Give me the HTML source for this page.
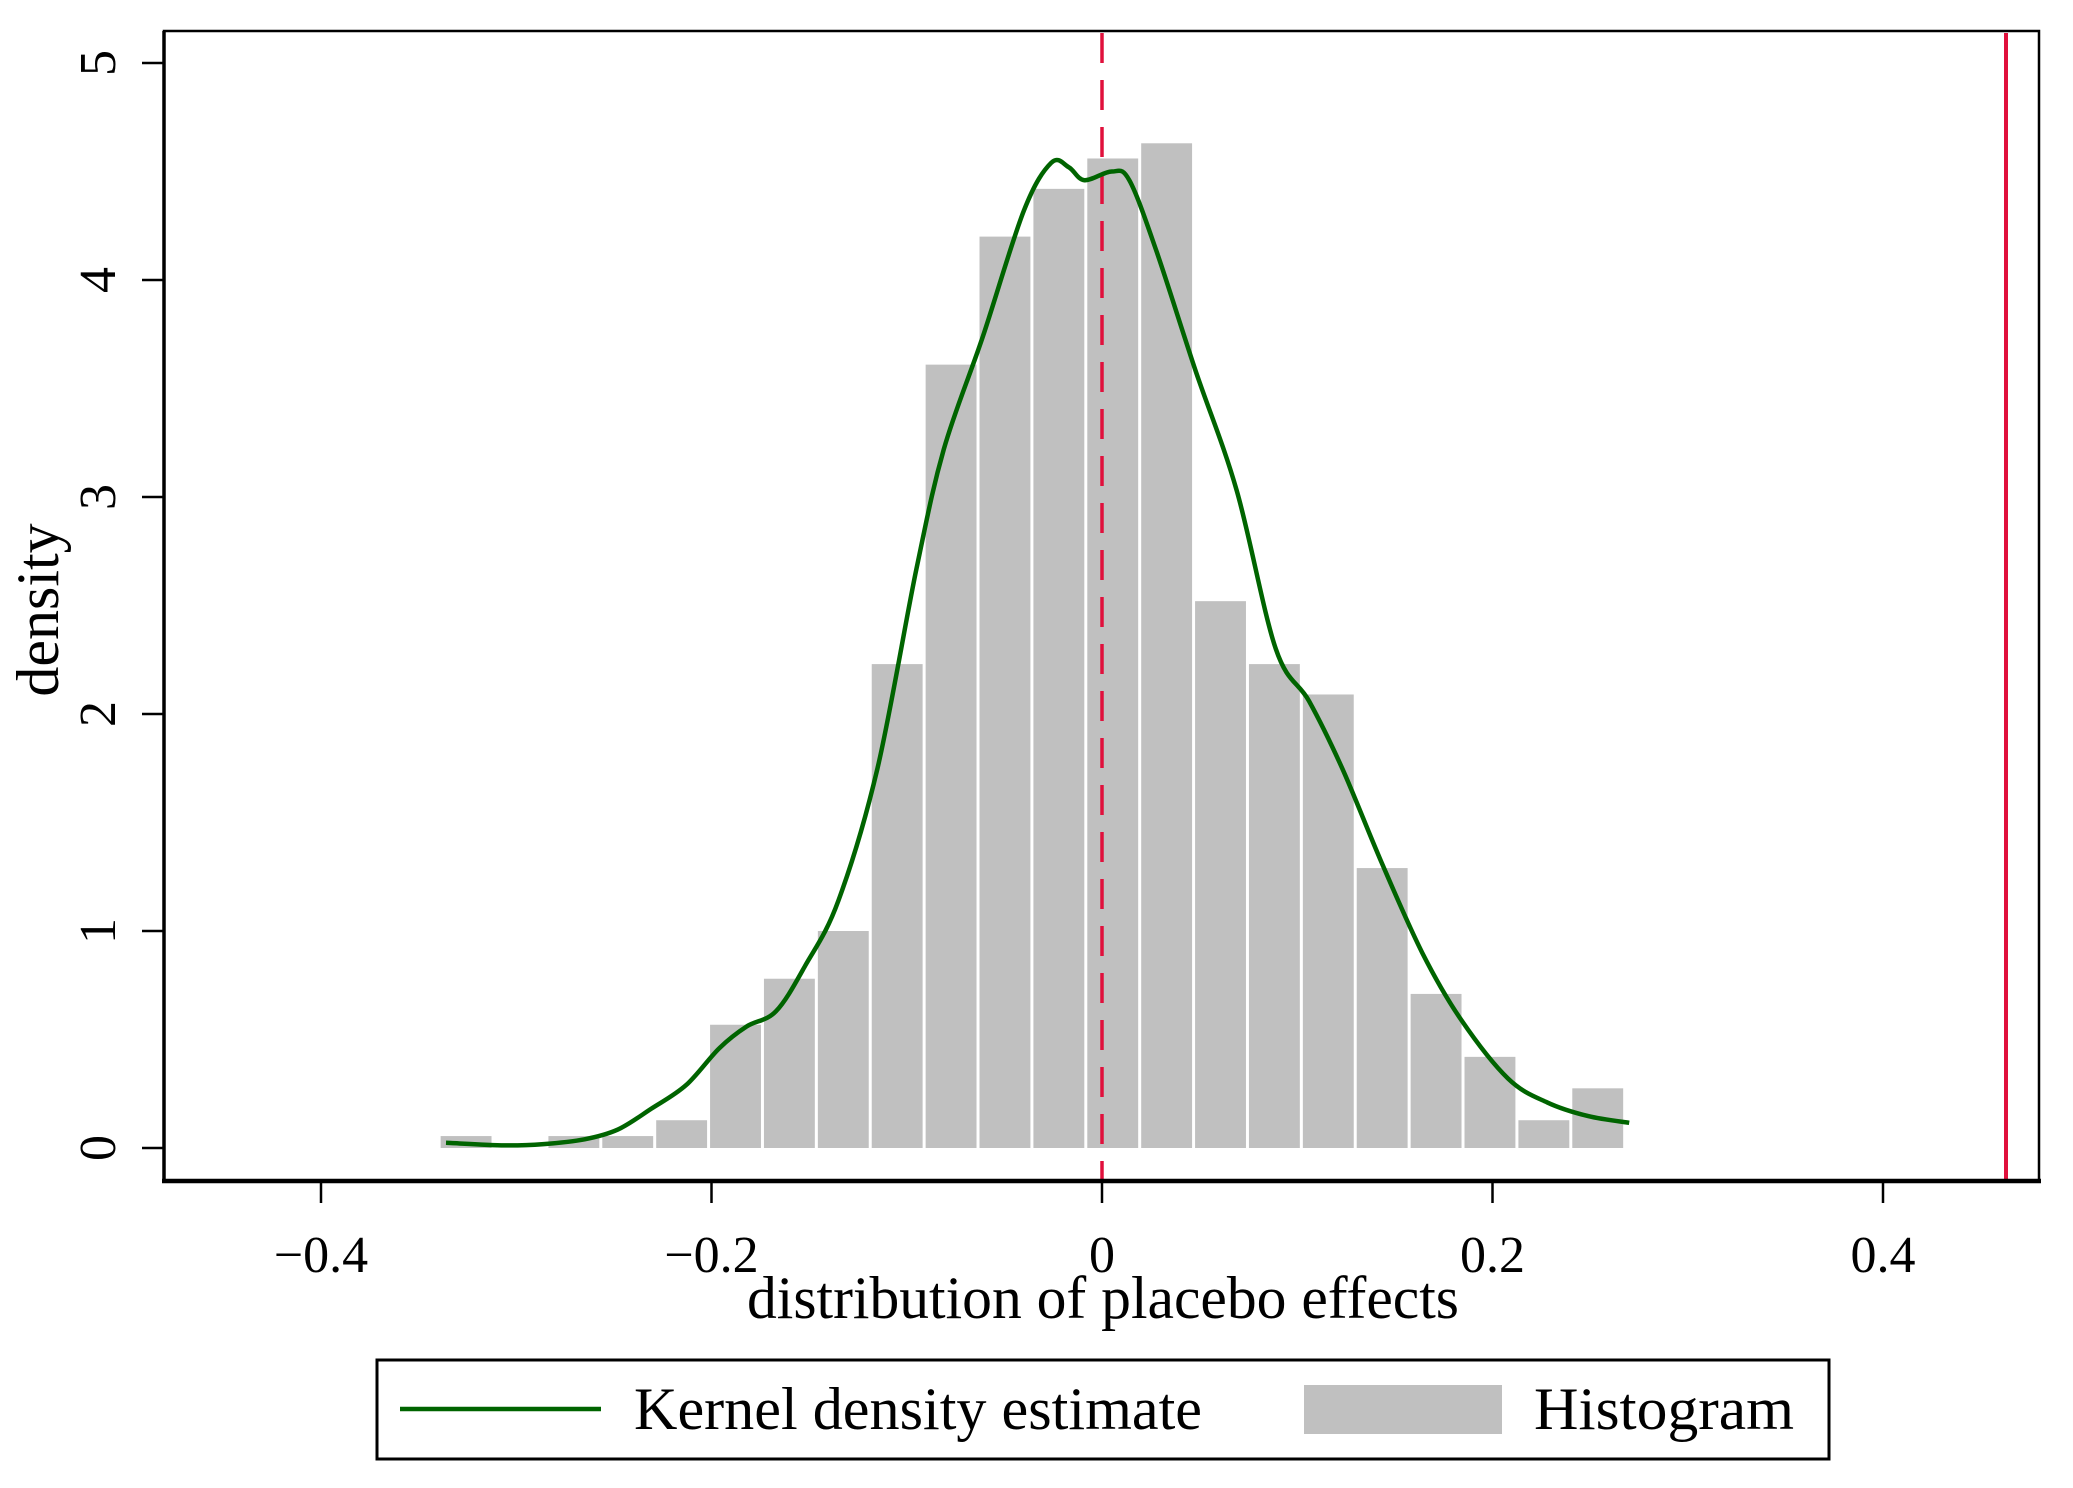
<!DOCTYPE html>
<html><head><meta charset="utf-8"><style>
html,body{margin:0;padding:0;background:#fff;width:2073px;height:1488px;overflow:hidden}
svg text{font-family:"Liberation Serif",serif;fill:#000}
</style></head><body>
<svg id="chart" width="2073" height="1488" viewBox="0 0 2073 1488" xmlns="http://www.w3.org/2000/svg">
<rect x="0" y="0" width="2073" height="1488" fill="#fff"/>
<g id="bars"></g>
<g id="refs"></g>
<g id="kde"></g>
<g id="axes"></g>
<text x="1103" y="1318" font-size="60" text-anchor="middle" textLength="712" lengthAdjust="spacingAndGlyphs">distribution of placebo effects</text>
<text transform="translate(58,610) rotate(-90)" font-size="60" text-anchor="middle">density</text>
<g>
<rect x="377" y="1360" width="1452" height="99" fill="#fff" stroke="#000" stroke-width="3"/>
<line x1="400" y1="1409" x2="601" y2="1409" stroke="#006400" stroke-width="4.5"/>
<text x="634" y="1429" font-size="60" textLength="568" lengthAdjust="spacingAndGlyphs">Kernel density estimate</text>
<rect x="1304" y="1385" width="198" height="49" fill="#c0c0c0"/>
<text x="1534" y="1429" font-size="60" textLength="260" lengthAdjust="spacingAndGlyphs">Histogram</text>
</g>
</svg>
<script>
const binStart = -0.3395;
const binWidth = 0.0276;
const binHeights = [0.055,0,0.055,0.055,0.128,0.568,0.78,1.0,2.23,3.61,4.2,4.42,4.56,4.63,2.52,2.23,2.09,1.29,0.71,0.42,0.128,0.275];
const kdeX = [-0.336,-0.306,-0.286,-0.265,-0.248,-0.231,-0.213,-0.196,-0.182,-0.167,-0.152,-0.135,-0.115,-0.095,-0.081,-0.061,-0.040,-0.026,-0.017,-0.009,0.005,0.014,0.028,0.048,0.069,0.089,0.106,0.123,0.143,0.164,0.184,0.208,0.228,0.249,0.270];
const kdeY = [0.024,0.012,0.018,0.04,0.085,0.18,0.29,0.46,0.56,0.63,0.84,1.14,1.75,2.67,3.22,3.74,4.32,4.54,4.52,4.46,4.50,4.46,4.13,3.58,3.03,2.30,2.06,1.75,1.32,0.90,0.59,0.32,0.21,0.147,0.116];
const xTicks = [-0.4,-0.2,0,0.2,0.4];
const xTickLabels = ["\u22120.4","\u22120.2","0","0.2","0.4"];
const yTicks = [0,1,2,3,4,5];
const yTickLabels = ["0","1","2","3","4","5"];
const placeboMean = 0;
const actualEffect = 0.463;

const NS = "http://www.w3.org/2000/svg";
const X = v => 1102 + v * 1952.5;
const Y = v => 1148 - v * 217;
function mk(tag, attrs, parent){const e=document.createElementNS(NS,tag);for(const k in attrs)e.setAttribute(k,attrs[k]);parent.appendChild(e);return e;}

const bars = document.getElementById('bars');
binHeights.forEach((h,i)=>{
  if(h<=0) return;
  const x0 = X(binStart + i*binWidth), x1 = X(binStart + (i+1)*binWidth);
  const r = mk('rect',{x:x0+1.5,y:Y(h),width:x1-x0-3,height:Y(0)-Y(h),fill:'#c0c0c0'},bars);
  
  
});

const refs = document.getElementById('refs');
const d = mk('line',{x1:X(placeboMean),y1:33,x2:X(placeboMean),y2:1179,stroke:'#e0103c','stroke-width':3.5,'stroke-dasharray':'30 17'},refs);


const s = mk('line',{x1:X(actualEffect),y1:33,x2:X(actualEffect),y2:1179,stroke:'#e0103c','stroke-width':4},refs);



const kde = document.getElementById('kde');
const pts = kdeX.map((x,i)=>[X(x),Y(kdeY[i])]);
let pd = 'M' + pts[0][0].toFixed(1) + ',' + pts[0][1].toFixed(1);
for(let i=0;i<pts.length-1;i++){
  const p0=pts[Math.max(0,i-1)], p1=pts[i], p2=pts[i+1], p3=pts[Math.min(pts.length-1,i+2)];
  const c1=[p1[0]+(p2[0]-p0[0])/6, p1[1]+(p2[1]-p0[1])/6];
  const c2=[p2[0]-(p3[0]-p1[0])/6, p2[1]-(p3[1]-p1[1])/6];
  pd += 'C'+c1[0].toFixed(1)+','+c1[1].toFixed(1)+' '+c2[0].toFixed(1)+','+c2[1].toFixed(1)+' '+p2[0].toFixed(1)+','+p2[1].toFixed(1);
}
const p = mk('path',{d:pd,fill:'none',stroke:'#006400','stroke-width':4.5,'stroke-linejoin':'round'},kde);



const axes = document.getElementById('axes');
const fr = mk('path',{d:'M164,1181 L164,31 L2039,31 L2039,1181',fill:'none',stroke:'#000','stroke-width':2.5},axes);


const la = mk('line',{x1:164,y1:31,x2:164,y2:1183,stroke:'#000','stroke-width':3.5},axes);


const ba = mk('line',{x1:162,y1:1181,x2:2041,y2:1181,stroke:'#000','stroke-width':4.5},axes);


xTicks.forEach((v,i)=>{
  const t = mk('line',{x1:X(v),y1:1183,x2:X(v),y2:1203,stroke:'#000','stroke-width':2.5},axes);
  
  
  const l = mk('text',{x:X(v),y:1272,'font-size':52,'text-anchor':'middle'},axes);
  l.textContent = xTickLabels[i];
  
  
});
yTicks.forEach((v,i)=>{
  const t = mk('line',{x1:142,y1:Y(v),x2:164,y2:Y(v),stroke:'#000','stroke-width':2.5},axes);
  
  
  const l = mk('text',{transform:'translate(115,'+Y(v)+') rotate(-90)','font-size':52,'text-anchor':'middle'},axes);
  l.textContent = yTickLabels[i];
  
  
});
</script>
</body></html>
